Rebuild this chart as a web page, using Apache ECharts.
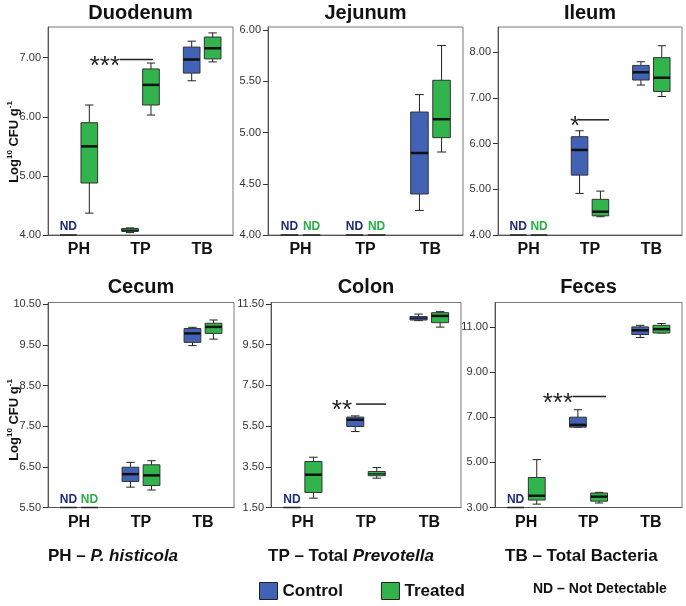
<!DOCTYPE html>
<html><head><meta charset="utf-8">
<script src="https://cdn.jsdelivr.net/npm/echarts@6/dist/echarts.min.js"></script>
<style>html,body{margin:0;padding:0;background:#fff}#c{width:686px;height:606px}</style>
</head><body><div id="c"></div>
<script>
// ---------------- DATA ----------------
const categories = ['PH', 'TP', 'TB'];
const panelNames = ['Duodenum', 'Jejunum', 'Ileum', 'Cecum', 'Colon', 'Feces'];

// each box: [min, Q1, median, Q3, max]; null = ND (not detectable)
const duodenumControl = [null, [4.04, 4.06, 4.08, 4.11, 4.12], [6.61, 6.74, 6.97, 7.18, 7.28]];
const duodenumTreated = [[4.37, 4.88, 5.50, 5.90, 6.20], [6.03, 6.20, 6.54, 6.81, 6.91], [6.93, 6.98, 7.16, 7.35, 7.42]];
const jejunumControl = [null, null, [4.24, 4.40, 4.80, 5.20, 5.37]];
const jejunumTreated = [null, null, [4.81, 4.95, 5.13, 5.51, 5.85]];
const ileumControl = [null, [4.91, 5.31, 5.86, 6.15, 6.28], [7.28, 7.39, 7.56, 7.71, 7.79]];
const ileumTreated = [null, [4.40, 4.42, 4.51, 4.78, 4.96], [7.03, 7.14, 7.44, 7.88, 8.14]];
const cecumControl = [null, [6.00, 6.14, 6.32, 6.49, 6.61], [9.48, 9.56, 9.78, 9.90, 9.93]];
const cecumTreated = [null, [5.93, 6.04, 6.29, 6.55, 6.65], [9.64, 9.78, 9.94, 10.03, 10.11]];
const colonControl = [null, [5.23, 5.48, 5.81, 5.94, 6.00], [10.68, 10.71, 10.80, 10.88, 11.00]];
const colonTreated = [[1.96, 2.24, 3.11, 3.76, 3.97], [2.94, 3.06, 3.15, 3.27, 3.46], [10.36, 10.58, 10.91, 11.07, 11.12]];
const fecesControl = [null, [6.56, 6.56, 6.66, 7.00, 7.33], [10.53, 10.66, 10.85, 11.00, 11.07]];
const fecesTreated = [[3.15, 3.33, 3.52, 4.33, 5.12], [3.20, 3.28, 3.48, 3.64, 3.67], [10.73, 10.73, 10.90, 11.07, 11.15]];

// y-axis tick labels and ranges per panel
const yTicks = [[4, 5, 6, 7], [4, 4.5, 5, 5.5, 6], [4, 5, 6, 7, 8], [5.5, 6.5, 7.5, 8.5, 9.5, 10.5], [1.5, 3.5, 5.5, 7.5, 9.5, 11.5], [3, 5, 7, 9, 11]];
const yRanges = [[4, 7.52], [4, 6.03], [4, 8.55], [5.5, 10.54], [1.5, 11.57], [3, 12.08]];

// significance marks: panel, category, value level, text
const sigPanels = ['Duodenum', 'Ileum', 'Colon', 'Feces'];
const sigCats = ['TP', 'TP', 'TP', 'TP'];
const sigLevels = [6.97, 6.52, 6.58, 7.92];
const sigTexts = ['***', '*', '**', '***'];

// control boxes that were drawn in the treated colour in the original
const controlDrawnGreen = { Duodenum: ['TP'] };

// ---------------- STYLE / LAYOUT ----------------
const FONT = '"Liberation Sans", Arial, Helvetica, sans-serif';
const BLUE = '#4262b6', GREEN = '#31b44c', NAVY = '#1d2c7c', NDGREEN = '#27b043';
const gridRects = [[48, 27, 185, 208], [268, 27, 195, 208], [498, 27, 184, 208],
                   [48, 302.5, 186, 205], [271, 302.5, 190, 205], [495, 302.5, 187, 205]];
// [text right end, line start, line end] relative to category center (px)
const sigLayout = { Duodenum: [-20.5, -20.5, 12.5], Ileum: [-10, -11, 19], Colon: [-14, -10, 20], Feces: [-15.5, -15.5, 17.5] };

const panelData = [
  [duodenumControl, duodenumTreated], [jejunumControl, jejunumTreated], [ileumControl, ileumTreated],
  [cecumControl, cecumTreated], [colonControl, colonTreated], [fecesControl, fecesTreated]
];

function makeBoxRenderer(pi, gi) {
  return function (params, api) {
    const ci = api.value(0);
    const nd = api.value(2) === 1;
    const v = [3, 4, 5, 6, 7].map(k => api.value(k));
    const band = api.size([1, 0])[0];
    const bw = band * 0.27, half = band * 0.035;
    const base = api.coord([ci, v[0]]);
    const cx = base[0] + (gi === 0 ? -(half + bw / 2) : (half + bw / 2));
    const Y = val => api.coord([ci, val])[1];
    const x0 = cx - bw / 2, x1 = cx + bw / 2;
    if (nd) {
      const y = Y(v[0]);
      return { type: 'group', children: [
        { type: 'line', shape: { x1: x0, y1: y, x2: x1, y2: y }, style: { stroke: '#222', lineWidth: 1.5 } },
        { type: 'text', x: cx, y: y - 2, style: { text: 'ND', align: 'center', verticalAlign: 'bottom',
          fontSize: 12, fontWeight: 'bold', fontFamily: FONT, fill: gi === 0 ? NAVY : NDGREEN } }
      ] };
    }
    const greens = controlDrawnGreen[panelNames[pi]] || [];
    const fill = gi === 1 || greens.indexOf(categories[ci]) >= 0 ? GREEN : BLUE;
    const yMin = Y(v[0]), yQ1 = Y(v[1]), yMed = Y(v[2]), yQ3 = Y(v[3]), yMax = Y(v[4]);
    const cw = bw * 0.5;
    const ws = { stroke: '#222', lineWidth: 1 };
    const tiny = (yQ1 - yQ3) < 6;
    return { type: 'group', children: [
      { type: 'line', shape: { x1: cx, y1: yMax, x2: cx, y2: yQ3 }, style: ws },
      { type: 'line', shape: { x1: cx, y1: yQ1, x2: cx, y2: yMin }, style: ws },
      { type: 'line', shape: { x1: cx - cw / 2, y1: yMax, x2: cx + cw / 2, y2: yMax }, style: ws },
      { type: 'line', shape: { x1: cx - cw / 2, y1: yMin, x2: cx + cw / 2, y2: yMin }, style: ws },
      { type: 'rect', shape: { x: x0, y: yQ3, width: bw, height: Math.max(yQ1 - yQ3, 1) }, style: { fill: fill, stroke: '#333', lineWidth: 1 } },
      { type: 'line', shape: { x1: x0, y1: yMed, x2: x1, y2: yMed }, style: { stroke: '#111', lineWidth: tiny ? 1.2 : 2.5 } }
    ] };
  };
}

function makeSigRenderer(name, text) {
  return function (params, api) {
    const p = api.coord([api.value(0), api.value(1)]);
    const L = sigLayout[name];
    return { type: 'group', children: [
      { type: 'text', x: p[0] + L[0], y: p[1] + 7, style: { text: text, align: 'right', verticalAlign: 'middle',
        fontSize: 26, fontFamily: FONT, fill: '#222' } },
      { type: 'line', shape: { x1: p[0] + L[1], y1: p[1], x2: p[0] + L[2], y2: p[1] }, style: { stroke: '#222', lineWidth: 1.5 } }
    ] };
  };
}

const grids = [], xAxes = [], yAxes = [], series = [], graphics = [];
panelNames.forEach((name, i) => {
  const [l, t, w, h] = gridRects[i];
  grids.push({ left: l, top: t, width: w, height: h, show: true, borderColor: '#7a7a7a', borderWidth: 1 });
  xAxes.push({ gridIndex: i, type: 'category', data: categories, boundaryGap: true,
    axisLine: { lineStyle: { color: '#555' } },
    axisTick: { alignWithLabel: true, length: 5, lineStyle: { color: '#333' } },
    axisLabel: { margin: 7, fontSize: 16, fontWeight: 'bold', color: '#111', fontFamily: FONT },
    splitLine: { show: false } });
  yAxes.push({ gridIndex: i, type: 'value', min: yRanges[i][0], max: yRanges[i][1],
    axisLine: { show: true, lineStyle: { color: '#555' } },
    axisTick: { show: true, length: 5, customValues: yTicks[i], lineStyle: { color: '#333' } },
    axisLabel: { customValues: yTicks[i], formatter: v => Number(v).toFixed(2), fontSize: 11, color: '#333', margin: 7, fontFamily: FONT },
    splitLine: { show: false } });
  [0, 1].forEach(gi => {
    const arr = panelData[i][gi];
    const lo = yRanges[i][0];
    const data = arr.map((v, ci) => v ? [ci, gi, 0].concat(v) : [ci, gi, 1, lo, lo, lo, lo, lo]);
    series.push({ type: 'custom', name: gi === 0 ? 'Control' : 'Treated', coordinateSystem: 'cartesian2d',
      xAxisIndex: i, yAxisIndex: i, itemStyle: { color: gi === 0 ? BLUE : GREEN },
      encode: { x: 0, y: 3 }, clip: false, silent: true,
      renderItem: makeBoxRenderer(i, gi), data: data });
  });
  const si = sigPanels.indexOf(name);
  if (si >= 0) {
    series.push({ type: 'custom', coordinateSystem: 'cartesian2d', xAxisIndex: i, yAxisIndex: i,
      encode: { x: 0, y: 1 }, clip: false, silent: true,
      renderItem: makeSigRenderer(name, sigTexts[si]),
      data: [[categories.indexOf(sigCats[si]), sigLevels[si]]] });
  }
  // panel title
  graphics.push({ type: 'text', x: l + w / 2, y: i < 3 ? 13 : 287,
    style: { text: name, align: 'center', verticalAlign: 'middle', fontSize: 20, fontWeight: 'bold', fontFamily: FONT, fill: '#111' } });
});

// y-axis names (left panels)
const ylabRich = {
  m: { fontSize: 13, fontWeight: 'bold', fontFamily: FONT, fill: '#111', lineHeight: 16 },
  s: { fontSize: 8, fontWeight: 'bold', fontFamily: FONT, fill: '#111', lineHeight: 16, verticalAlign: 'top' }
};
[[14, 142], [14, 420]].forEach(([x, y]) => {
  graphics.push({ type: 'text', x: x, y: y, rotation: Math.PI / 2,
    style: { text: '{m|Log}{s|10}{m| CFU g}{s|-1}', rich: ylabRich, align: 'center', verticalAlign: 'middle' } });
});

// bottom notes
const noteRich = {
  b: { fontSize: 17, fontWeight: 'bold', fontFamily: FONT, fill: '#111' },
  i: { fontSize: 17, fontWeight: 'bold', fontStyle: 'italic', fontFamily: FONT, fill: '#111' }
};
graphics.push({ type: 'text', x: 48, y: 556, style: { text: '{b|PH – }{i|P. histicola}', rich: noteRich, verticalAlign: 'middle' } });
graphics.push({ type: 'text', x: 268, y: 556, style: { text: '{b|TP – Total }{i|Prevotella}', rich: noteRich, verticalAlign: 'middle' } });
graphics.push({ type: 'text', x: 505, y: 556, style: { text: '{b|TB – Total Bacteria}', rich: noteRich, verticalAlign: 'middle' } });
graphics.push({ type: 'text', x: 533, y: 589, style: { text: 'ND – Not Detectable', fontSize: 14, fontWeight: 'bold', fontFamily: FONT, fill: '#111', verticalAlign: 'middle' } });

const chart = echarts.init(document.getElementById('c'), null, { renderer: 'canvas' });
chart.setOption({
  animation: false,
  backgroundColor: '#fff',
  grid: grids, xAxis: xAxes, yAxis: yAxes, series: series,
  legend: { left: 259, top: 582, itemWidth: 18, itemHeight: 17, itemGap: 38, padding: 0,
    data: [{ name: 'Control', icon: 'rect' }, { name: 'Treated', icon: 'rect' }],
    itemStyle: { borderColor: '#222', borderWidth: 1 },
    textStyle: { fontSize: 17, fontWeight: 'bold', color: '#111', fontFamily: FONT } },
  graphic: graphics
});
</script></body></html>
